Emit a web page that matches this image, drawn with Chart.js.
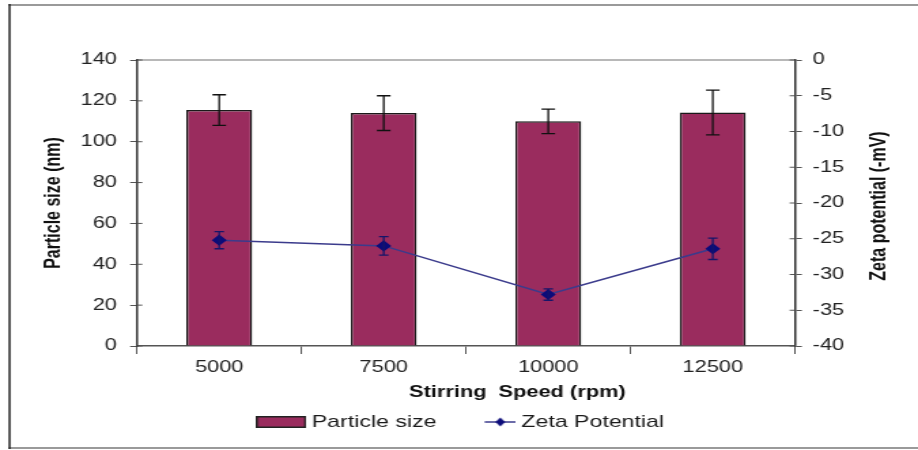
<!DOCTYPE html>
<html>
<head>
<meta charset="utf-8">
<script src="https://cdn.jsdelivr.net/npm/chart.js@4.4.0/dist/chart.umd.min.js"></script>
<style>
  html, body { margin: 0; padding: 0; background: #fff; overflow: hidden; }
  /* the source picture is stretched sideways, so the chart is too */
  #wrap { position: absolute; left: 0; top: 0; width: 675px; height: 450px;
          transform: scaleX(1.36); transform-origin: 0 0; }
</style>
</head>
<body>
<div id="wrap"><canvas id="chart"></canvas></div>
<script>
const speeds = ['5000', '7500', '10000', '12500'];
const particleSize = [115.5, 114, 110, 114.3];
const particleErr = [7.5, 8.5, 6, 11];
const zeta = [-25.2, -26.0, -32.8, -26.4];
const zetaErr = [1.2, 1.3, 0.8, 1.5];
const sizeTicks = [0, 20, 40, 60, 80, 100, 120, 140];
const zetaTicks = [-40, -35, -30, -25, -20, -15, -10, -5, 0];

const barColor = '#9a2c5e';
const lineColor = '#3b3b8c';
const markColor = '#0c0c7a';

Chart.defaults.font.family = '"Liberation Sans", Arial, sans-serif';
Chart.defaults.font.size = 16;
Chart.defaults.color = '#222';

// legend swatches
function barSwatch() {
  const c = document.createElement('canvas');
  c.width = 37; c.height = 12;
  const g = c.getContext('2d');
  g.fillStyle = barColor; g.fillRect(0, 0, 37, 12);
  g.strokeStyle = '#222'; g.lineWidth = 1.5; g.strokeRect(0.75, 0.75, 35.5, 10.5);
  return c;
}
function lineSwatch() {
  const c = document.createElement('canvas');
  c.width = 37; c.height = 12;
  const g = c.getContext('2d');
  g.strokeStyle = lineColor; g.lineWidth = 1.5;
  g.beginPath(); g.moveTo(14, 6); g.lineTo(37, 6); g.stroke();
  g.fillStyle = markColor;
  g.beginPath(); g.moveTo(25.5, 1.5); g.lineTo(29, 6); g.lineTo(25.5, 10.5); g.lineTo(22, 6); g.closePath(); g.fill();
  return c;
}

const framePlugin = {
  id: 'frame',
  beforeDraw(chart) {
    const {ctx, chartArea: a, width, height} = chart;
    ctx.save();
    ctx.fillStyle = '#fff';
    ctx.fillRect(0, 0, width, height);
    ctx.lineWidth = 2;
    ctx.strokeStyle = '#9a9a9a';
    ctx.beginPath(); ctx.moveTo(6, 5); ctx.lineTo(width, 5); ctx.stroke();
    ctx.beginPath(); ctx.moveTo(6, height - 2); ctx.lineTo(width, height - 2); ctx.stroke();
    ctx.strokeStyle = '#222'; ctx.lineWidth = 1.5;
    ctx.beginPath(); ctx.moveTo(7, 4); ctx.lineTo(7, height - 1); ctx.stroke();
    // top edge of plot area
    ctx.strokeStyle = '#a0a0a0'; ctx.lineWidth = 1.5;
    ctx.beginPath(); ctx.moveTo(a.left, a.top); ctx.lineTo(a.right, a.top); ctx.stroke();
    ctx.restore();
  },
  afterDraw(chart) {
    // inner half of the crossing tick marks
    const {ctx, chartArea: a, scales} = chart;
    ctx.save();
    ctx.strokeStyle = '#555'; ctx.lineWidth = 1;
    scales.y.ticks.forEach(t => {
      const py = scales.y.getPixelForValue(t.value);
      ctx.beginPath(); ctx.moveTo(a.left, py); ctx.lineTo(a.left + 4, py); ctx.stroke();
    });
    scales.y1.ticks.forEach(t => {
      const py = scales.y1.getPixelForValue(t.value);
      ctx.beginPath(); ctx.moveTo(a.right - 4, py); ctx.lineTo(a.right, py); ctx.stroke();
    });
    ctx.restore();
  }
};

const errorBarPlugin = {
  id: 'errorBars',
  afterDatasetDraw(chart, args) {
    const ds = chart.data.datasets[args.index];
    if (!ds.errors) return;
    const meta = args.meta;
    const scale = chart.scales[meta.yAxisID];
    const ctx = chart.ctx;
    ctx.save();
    ctx.strokeStyle = ds.errorColor;
    ctx.lineWidth = 1.3;
    meta.data.forEach((el, i) => {
      const x = el.x;
      const hi = scale.getPixelForValue(ds.data[i] + ds.errors[i]);
      const lo = scale.getPixelForValue(ds.data[i] - ds.errors[i]);
      const w = ds.capWidth;
      ctx.beginPath();
      ctx.moveTo(x, hi); ctx.lineTo(x, lo);
      ctx.moveTo(x - w, hi); ctx.lineTo(x + w, hi);
      ctx.moveTo(x - w, lo); ctx.lineTo(x + w, lo);
      ctx.stroke();
    });
    ctx.restore();
  }
};

const axisTitlePlugin = {
  id: 'axisTitles',
  afterDraw(chart) {
    const {ctx, chartArea: a} = chart;
    const midY = (a.top + a.bottom) / 2;
    ctx.save();
    ctx.fillStyle = '#111';
    ctx.font = 'bold 16px "Liberation Sans", Arial, sans-serif';
    ctx.textAlign = 'center';
    ctx.textBaseline = 'middle';
    ctx.fillText('Stirring  Speed (rpm)', a.left + (a.right - a.left) * 0.578, a.bottom + 47);
    ctx.translate(a.left - 61, midY);
    ctx.rotate(-Math.PI / 2);
    ctx.fillText('Particle size (nm)', 0, 0);
    ctx.restore();
    ctx.save();
    ctx.fillStyle = '#111';
    ctx.font = 'bold 16px "Liberation Sans", Arial, sans-serif';
    ctx.textAlign = 'center';
    ctx.textBaseline = 'middle';
    ctx.translate(a.right + 61.5, midY + 3);
    ctx.rotate(-Math.PI / 2);
    ctx.fillText('Zeta potential (-mV)', 0, 0);
    ctx.restore();
  }
};

new Chart(document.getElementById('chart'), {
  type: 'bar',
  data: {
    labels: speeds,
    datasets: [
      {
        label: 'Particle size',
        data: particleSize,
        errors: particleErr,
        errorColor: '#111',
        capWidth: 5,
        backgroundColor: barColor,
        borderColor: '#1a1a1a',
        borderWidth: 1.5,
        barPercentage: 0.4,
        categoryPercentage: 1,
        yAxisID: 'y',
        order: 1
      },
      {
        type: 'line',
        label: 'Zeta Potential',
        data: zeta,
        errors: zetaErr,
        errorColor: '#15156a',
        capWidth: 3.5,
        borderColor: lineColor,
        borderWidth: 1.5,
        pointStyle: 'rectRot',
        pointRadius: 4.5,
        pointBackgroundColor: markColor,
        pointBorderColor: markColor,
        tension: 0,
        yAxisID: 'y1',
        order: 0
      }
    ]
  },
  options: {
    responsive: true,
    maintainAspectRatio: false,
    animation: false,
    layout: { padding: { left: 10, right: 4, top: 60, bottom: 9.5 } },
    plugins: {
      tooltip: { enabled: false },
      legend: {
        position: 'bottom',
        labels: {
          usePointStyle: true,
          pointStyleWidth: 28,
          padding: 26,
          color: '#1a1a1a',
          font: { size: 17 },
          generateLabels: () => [
            { text: 'Particle size', pointStyle: barSwatch(), fillStyle: barColor, strokeStyle: '#222', lineWidth: 0, hidden: false, datasetIndex: 0, fontColor: '#1a1a1a' },
            { text: 'Zeta Potential', pointStyle: lineSwatch(), fillStyle: markColor, strokeStyle: lineColor, lineWidth: 0, hidden: false, datasetIndex: 1, fontColor: '#1a1a1a' }
          ]
        }
      }
    },
    scales: {
      x: {
        offset: true,
        grid: { display: true, drawOnChartArea: false, offset: true, tickLength: 8, color: '#555' },
        border: { display: true, color: '#555', width: 1.5 },
        ticks: { padding: 4, color: '#222', maxRotation: 0 },
        afterFit(s) { s.height = 41.5; }
      },
      y: {
        position: 'left',
        min: 0, max: 140,
        afterBuildTicks(s) { s.ticks = sizeTicks.map(v => ({ value: v })); },
        grid: { display: true, drawOnChartArea: false, tickLength: 5, color: '#555' },
        border: { display: true, color: '#333', width: 1.5 },
        ticks: { padding: 9.7, color: '#222' },
        afterFit(s) { s.width = 90.7; }
      },
      y1: {
        position: 'right',
        min: -40, max: 0,
        afterBuildTicks(s) { s.ticks = zetaTicks.map(v => ({ value: v })); },
        grid: { display: true, drawOnChartArea: false, tickLength: 5, color: '#555' },
        border: { display: true, color: '#333', width: 1.5 },
        ticks: { padding: 8, color: '#222' },
        afterFit(s) { s.width = 86.4; }
      }
    }
  },
  plugins: [framePlugin, errorBarPlugin, axisTitlePlugin]
});
</script>
</body>
</html>
